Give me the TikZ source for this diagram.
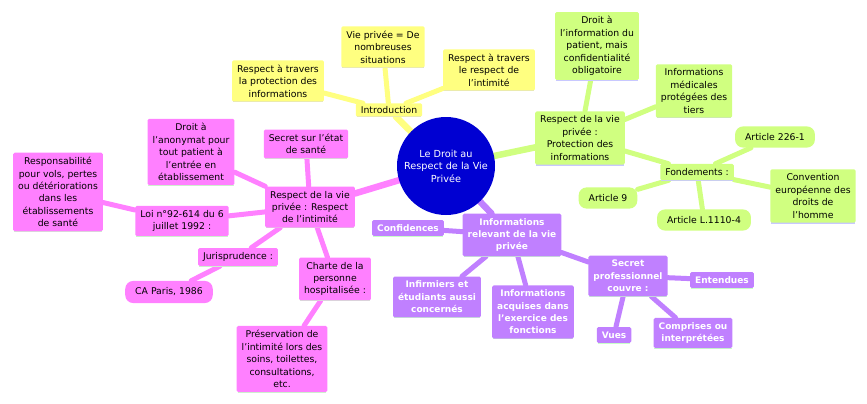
\documentclass[tikz,border=0pt]{standalone}
\usepackage{fontspec}
\setmainfont{DejaVu Sans}
\usetikzlibrary{backgrounds}

\definecolor{jaune}{RGB}{255,255,128}
\definecolor{vert}{RGB}{208,255,128}
\definecolor{rose}{RGB}{255,128,255}
\definecolor{violet}{RGB}{192,128,255}
\definecolor{bleu}{RGB}{0,0,210}
\definecolor{lavande}{RGB}{200,200,255}
\definecolor{menthe}{RGB}{200,255,200}

\begin{document}
\begin{tikzpicture}[x=1pt,y=-1pt,
    every node/.style={font=\fontsize{9.3}{12.4}\selectfont, align=center},
    under/.style={append after command={\pgfextra{\draw[#1,line width=1.2pt]
        ([xshift=1pt]\tikzlastnode.south west) -- ([xshift=-1pt]\tikzlastnode.south east);}}},
    box/.style={rectangle, rounded corners=1.5pt, inner xsep=5pt, inner ysep=4.5pt, fill=#1},
    pill/.style={rectangle, rounded corners=8pt, inner xsep=10pt, inner ysep=7pt, fill=#1},
    yellowbox/.style={box=jaune, under=lavande},
    greenbox/.style={box=vert, under=lavande},
    pinkbox/.style={box=rose, under=menthe},
    purplebox/.style={box=violet, under=menthe, text=white, font=\fontsize{9}{12.4}\selectfont\bfseries},
    branch/.style={line width=6.5pt, line cap=round},
    twig/.style={line width=5pt, line cap=round}]

    \useasboundingbox (0,0) rectangle (867,404);

    %root
    \node[circle, fill=bleu, text=white, minimum size=98pt, inner sep=0pt,
      font=\fontsize{9.7}{12.6}\selectfont] (root) at (446,166)
      {Le Droit au\\Respect de la Vie\\Privée};

    %introduction
    \node[yellowbox, inner ysep=3pt] (intro) at (389,110) {Introduction};
    \node[yellowbox] (intro_1) at (278,81) {Respect à travers\\la protection des\\informations};
    \node[yellowbox] (intro_2) at (383,47) {Vie privée = De\\nombreuses\\situations};
    \node[yellowbox] (intro_3) at (489,70) {Respect à travers\\le respect de\\l'intimité};

    %protection des informations
    \node[greenbox] (info) at (580,138) {Respect de la vie\\privée :\\Protection des\\informations};
    \node[greenbox] (info_1) at (597,46) {Droit à\\l'information du\\patient, mais\\confidentialité\\obligatoire};
    \node[greenbox] (info_2) at (694,91) {Informations\\médicales\\protégées des\\tiers};
    \node[greenbox] (fond) at (697,172) {Fondements :};
    \node[pill=vert] (fond_1) at (775,137) {Article 226-1};
    \node[greenbox] (fond_2) at (813,196) {Convention\\européenne des\\droits de\\l’homme};
    \node[pill=vert] (fond_3) at (608,198) {Article 9};
    \node[pill=vert] (fond_4) at (704,220) {Article L.1110-4};

    %respect de l'intimite
    \node[pinkbox] (intim) at (310,207) {Respect de la vie\\privée : Respect\\de l'intimité};
    \node[pinkbox] (intim_1) at (306,144) {Secret sur l'état\\de santé};
    \node[pinkbox] (intim_2) at (191,152) {Droit à\\l'anonymat pour\\tout patient à\\l'entrée en\\établissement};
    \node[pinkbox] (loi) at (182,221) {Loi n°92-614 du 6\\juillet 1992 :};
    \node[pinkbox] (loi_1) at (58,192) {Responsabilité\\pour vols, pertes\\ou détériorations\\dans les\\établissements\\de santé};
    \node[pinkbox] (juris) at (238,257) {Jurisprudence :};
    \node[pill=rose] (juris_1) at (169,292) {CA Paris, 1986};
    \node[pinkbox] (charte) at (335,279) {Charte de la\\personne\\hospitalisée :};
    \node[pinkbox] (charte_1) at (282,359) {Préservation de\\l'intimité lors des\\soins, toilettes,\\consultations,\\etc.};

    %informations relevant de la vie privee
    \node[purplebox] (relev) at (512,235) {Informations\\relevant de la vie\\privée};
    \node[purplebox] (relev_1) at (408,228) {Confidences};
    \node[purplebox] (relev_2) at (437,297) {Infirmiers et\\étudiants aussi\\concernés};
    \node[purplebox] (relev_3) at (533,312) {Informations\\acquises dans\\l'exercice des\\fonctions};
    \node[purplebox] (secret) at (628,276) {Secret\\professionnel\\couvre :};
    \node[purplebox] (secret_1) at (722,280) {Entendues};
    \node[purplebox] (secret_2) at (614,335) {Vues};
    \node[purplebox] (secret_3) at (693,333) {Comprises ou\\interprétées};

    \begin{pgfonlayer}{background}
    %branches from the root
    \path[branch]
    (root) edge[draw=jaune] (intro)
    (root) edge[draw=vert] (info)
    (root) edge[draw=rose] (intim)
    (root) edge[draw=violet] (relev);

    %yellow
    \path[twig, draw=jaune]
    (intro) edge (intro_1)
    (intro) edge (intro_2)
    (intro) edge (intro_3);

    %green
    \path[twig, draw=vert]
    (info) edge (info_1)
    (info) edge (info_2)
    (info) edge (fond)
    (fond) edge (fond_1)
    (fond) edge (fond_2)
    (fond) edge (fond_3)
    (fond) edge (fond_4);

    %pink
    \path[twig, draw=rose]
    (intim) edge (intim_1)
    (intim) edge (intim_2)
    (intim) edge (loi)
    (loi) edge (loi_1)
    (intim) edge (juris)
    (juris) edge (juris_1)
    (intim) edge (charte)
    (charte) edge (charte_1);

    %purple
    \path[twig, draw=violet]
    (relev) edge (relev_1)
    (relev) edge (relev_2)
    (relev) edge (relev_3)
    (relev) edge (secret)
    (secret) edge (secret_1)
    (secret) edge (secret_2)
    (secret) edge (secret_3);
    \end{pgfonlayer}
\end{tikzpicture}
\end{document}
